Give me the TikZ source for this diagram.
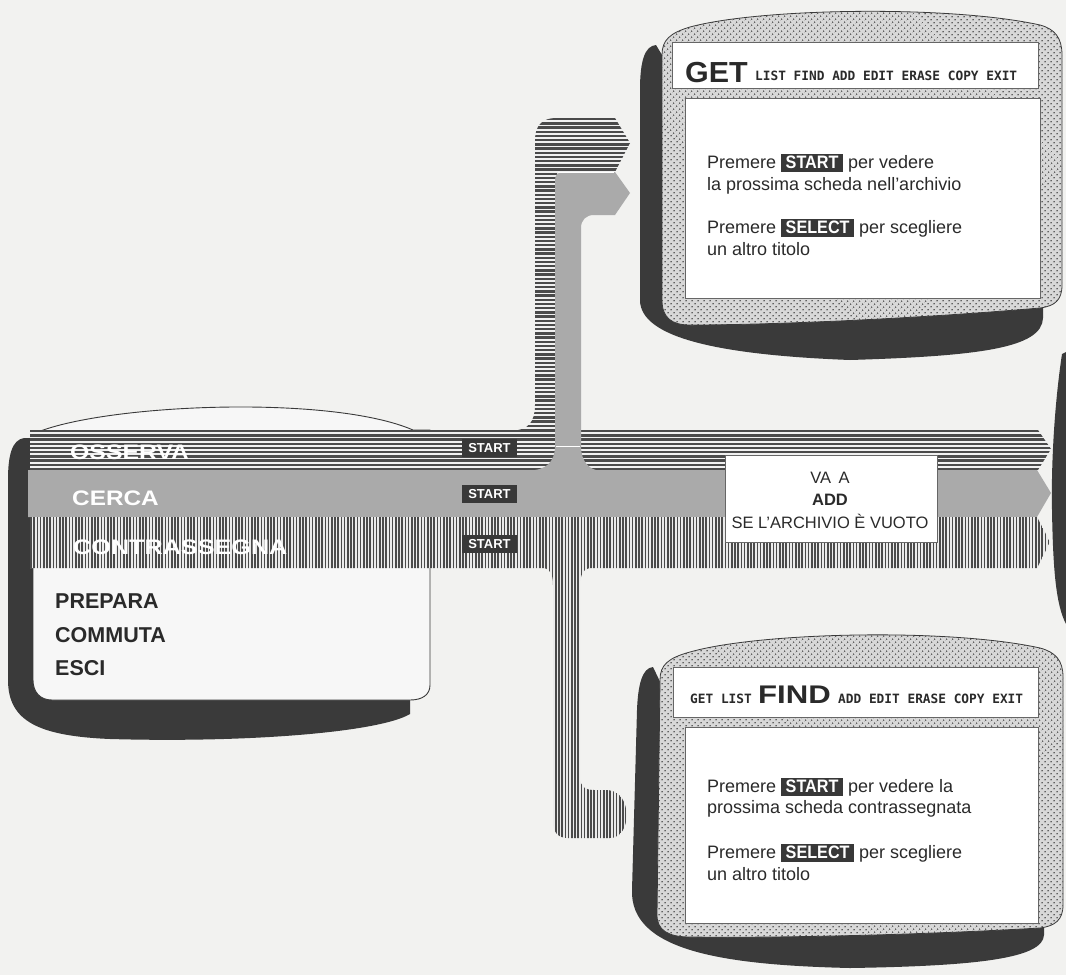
\documentclass[tikz,border=0pt]{standalone}
\usepackage{fontspec}
\usepackage{graphicx}
\setmainfont{Liberation Sans}
\newfontfamily\condf{Liberation Sans}[FakeStretch=0.9]
\newfontfamily\pixf{DejaVu Sans Mono}
\usetikzlibrary{patterns.meta}
\definecolor{paper}{HTML}{F2F2F0}
\definecolor{ink}{HTML}{3A3A3A}
\definecolor{stripe}{HTML}{4A4A4A}
\definecolor{midgray}{HTML}{AAAAAA}
\definecolor{bodyg}{HTML}{D8D8D8}
\definecolor{dotc}{HTML}{555555}
\definecolor{tagc}{HTML}{383838}
\definecolor{textc}{HTML}{2A2A2A}
\newcommand\keytag[1]{{\fboxsep=1.5pt\colorbox{tagc}{\hspace{3pt}\rule[-2.5pt]{0pt}{15pt}\textcolor{white}{\condf\bfseries #1}\hspace{3pt}}}}
\tikzset{
  shadowc/.style={fill=ink},
  bandbg/.style={fill=white!94!black},
  hline/.style={draw=stripe, line width=2.4pt},
  vline/.style={draw=stripe, line width=1.7pt},
  dband/.style={fill=midgray},
  dotbody/.style={preaction={fill=bodyg}, pattern={Dots[distance=4pt,radius=0.9pt,angle=45]}, pattern color=dotc, draw=ink, line width=0.8pt},
  panel/.style={fill=white, draw=gray!80!black, line width=0.9pt, inner sep=0pt},
  bandtag/.style={fill=tagc, text=white, font=\fontsize{13}{13}\selectfont\bfseries, minimum width=55pt, minimum height=18pt, inner sep=0pt},
  screentxt/.style={anchor=base west, inner sep=0pt, text=textc, font=\fontsize{18}{22}\selectfont},
  menutxt/.style={anchor=base west, inner sep=0pt, text=textc, font=\fontsize{21.5}{24}\selectfont\bfseries},
  bandlbl/.style={anchor=base west, inner sep=0pt, text=white, font=\fontsize{21}{24}\selectfont\bfseries},
  bartxt/.style={anchor=base west, inner sep=0pt, text=textc, font=\pixf\bfseries\fontsize{12.8}{14}\selectfont},
  bigtxt/.style={anchor=base west, inner sep=0pt, text=textc, font=\fontsize{29}{30}\selectfont\bfseries},
  boxtxt/.style={anchor=base, inner sep=0pt, text=textc, font=\fontsize{16.5}{20}\selectfont},
  osspath/.style={insert path={(30,430) -- (1038,430) -- (1051,449) -- (1038,470) -- (30,470) -- cycle}},
  ossarm/.style={insert path={(512,430.5) .. controls (528,430.5) and (535,422) .. (535,405) -- (535,140)
     .. controls (535,126) and (542,118) .. (556,118) -- (615,118) -- (630,143) -- (615,172)
     -- (557,172) -- (557,430.5) -- cycle}},
  conpath/.style={insert path={(30,517) -- (1037,517) -- (1050,542) -- (1037,568) -- (30,568) -- cycle}},
  conarm/.style={insert path={(540,567.5) .. controls (550,567.5) and (553,574) .. (553,585) -- (553,822)
     .. controls (553,832) and (558,838) .. (568,838) -- (610,838)
     .. controls (632,838) and (633,792) .. (608,790) -- (594,790)
     .. controls (585,790) and (580,786) .. (580,778) -- (580,585)
     .. controls (580,574) and (584,567.5) .. (594,567.5) -- cycle}},
}
\begin{document}
\begin{tikzpicture}[x=1pt,y=-1pt]
\fill[paper] (0,0) rectangle (1066,975);
\useasboundingbox (0,0) rectangle (1066,975);

% ---------- left monitor ----------
\fill[shadowc] (24,438) .. controls (12,440) and (8,455) .. (8,480) -- (8,680)
  .. controls (8,722) and (40,736) .. (110,739) .. controls (250,743) and (380,732) .. (410,714)
  -- (410,690) -- (40,690) -- (40,438) -- cycle;
\filldraw[fill=white!97!black, draw=ink, line width=0.9pt] (33,434) .. controls (100,404) and (330,394) .. (413,430)
  -- (430,430) -- (430,685) .. controls (430,695) and (422,700) .. (410,700) -- (52,700)
  .. controls (40,700) and (33,692) .. (33,680) -- cycle;

% ---------- OSSERVA band (horizontal stripes) ----------
\fill[bandbg, osspath];
\fill[bandbg, ossarm];
\begin{scope}
  \clip[osspath];
  \foreach \y in {431.2,435.4,...,470} \draw[hline] (20,\y) -- (1060,\y);
\end{scope}
\begin{scope}
  \clip[ossarm];
  \foreach \y in {119.2,123.4,...,432} \draw[hline] (500,\y) -- (640,\y);
\end{scope}

% ---------- CERCA band (grey) ----------
\fill[dband] (28,470) -- (1037,470) -- (1051,493) -- (1037,517) -- (28,517) -- cycle;
\fill[dband] (528,470.5) .. controls (546,470.5) and (555,462) .. (555,446) -- (555,180)
  .. controls (555,175) and (558,172) .. (563,172) -- (615,172) -- (630,193) -- (615,215)
  -- (594,215) .. controls (586,215) and (581,220) .. (581,228) -- (581,446)
  .. controls (581,462) and (590,470.5) .. (600,470.5) -- cycle;
\draw[white, line width=0.8pt] (556,446) -- (580,446);
\draw[white, line width=0.8pt] (558,172) -- (614,172);

% ---------- CONTRASSEGNA band (vertical stripes) ----------
\fill[white!92!black, conpath];
\fill[white!92!black, conarm];
\begin{scope}
  \clip[conpath];
  \foreach \x in {31,34.2,...,1052} \draw[vline] (\x,510) -- (\x,575);
\end{scope}
\begin{scope}
  \clip[conarm];
  \foreach \x in {536.6,539.8,...,640} \draw[vline] (\x,560) -- (\x,845);
\end{scope}

% ---------- band labels and tags ----------
\node[bandlbl] (osserva) at (70,459) {\scalebox{1.18}[1]{OSSERVA}};
\node[bandlbl] (cerca) at (72,505) {\scalebox{1.16}[1]{CERCA}};
\node[bandlbl] (contr) at (73,554) {\scalebox{1.2}[1]{CONTRASSEGNA}};
\node[bandtag] (s1) at (489.5,448) {START};
\node[bandtag] (s2) at (489.5,494) {START};
\node[bandtag] (s3) at (489.5,544) {START};

\node[menutxt] (prepara) at (55,608) {PREPARA};
\node[menutxt] (commuta) at (55,642) {COMMUTA};
\node[menutxt] (esci) at (55,675) {ESCI};

% ---------- VA A box ----------
\node[panel, minimum width=212pt, minimum height=87pt] (va) at (831,498.5) {};
\node[boxtxt] (va1) at (830,483) {VA\hspace{0.45em}A};
\node[boxtxt, font=\fontsize{16.5}{20}\selectfont\bfseries] (va2) at (830,505) {ADD};
\node[boxtxt] (va3) at (830,528) {SE L’ARCHIVIO È VUOTO};

% ---------- GET monitor ----------
\fill[shadowc] (656,45) .. controls (645,46) and (640,60) .. (640,90) -- (640,300)
  .. controls (640,338) and (720,355) .. (850,360) .. controls (980,356) and (1042,348) .. (1043,318)
  -- (1043,300) -- (700,300) -- (665,60) -- cycle;
\filldraw[dotbody] (662,55) .. controls (662,40) and (670,33) .. (690,27)
  .. controls (760,8) and (950,5) .. (1040,25) .. controls (1055,29) and (1062,38) .. (1062,55)
  -- (1062,285) .. controls (1062,300) and (1055,306) .. (1040,308)
  .. controls (900,320) and (760,325) .. (690,325) .. controls (672,325) and (662,318) .. (662,300) -- cycle;
\node[panel, minimum width=366pt, minimum height=46pt] (gethead) at (855,65) {};
\node[panel, minimum width=355pt, minimum height=200pt] (getscreen) at (862.5,198) {};
\node[bigtxt] (gett) at (685,82) {\scalebox{1.05}[1]{GET}};
\node[bartxt] (getbar) at (755,80) {LIST FIND ADD EDIT ERASE COPY EXIT};
\node[screentxt] (g1) at (707,168) {Premere \keytag{START} per vedere};
\node[screentxt] (g2) at (707,190) {la prossima scheda nell’archivio};
\node[screentxt] (g3) at (707,233) {Premere \keytag{SELECT} per scegliere};
\node[screentxt] (g4) at (707,255) {un altro titolo};

% ---------- FIND monitor ----------
\fill[shadowc] (653,667) .. controls (642,668) and (638,685) .. (637,710) -- (632,890)
  .. controls (630,950) and (720,965) .. (850,968) .. controls (980,966) and (1043,958) .. (1044,935)
  -- (1044,920) -- (700,920) -- (664,690) -- cycle;
\filldraw[dotbody] (660,680) .. controls (660,665) and (668,658) .. (690,652)
  .. controls (760,632) and (950,628) .. (1040,648) .. controls (1055,652) and (1063,660) .. (1063,677)
  -- (1063,905) .. controls (1063,920) and (1055,926) .. (1040,928)
  .. controls (900,936) and (760,938) .. (690,937) .. controls (668,937) and (657,930) .. (657,915) -- cycle;
\node[panel, minimum width=365pt, minimum height=50pt] (findhead) at (855.5,692) {};
\node[panel, minimum width=353pt, minimum height=196pt] (findscreen) at (861.5,825) {};
\node[bartxt] (findbar1) at (690,703) {GET LIST};
\node[bigtxt, font=\fontsize{25.5}{28}\selectfont\bfseries] (findt) at (758,703) {\scalebox{1.22}[1]{FIND}};
\node[bartxt] (findbar2) at (838,703) {ADD EDIT ERASE COPY EXIT};
\node[screentxt] (f1) at (707,792) {Premere \keytag{START} per vedere la};
\node[screentxt] (f2) at (707,813) {prossima scheda contrassegnata};
\node[screentxt] (f3) at (707,858) {Premere \keytag{SELECT} per scegliere};
\node[screentxt] (f4) at (707,880) {un altro titolo};

% ---------- right partial monitor ----------
\fill[shadowc] (1066,352) -- (1062,354) .. controls (1055,400) and (1051,460) .. (1052,510)
  .. controls (1053,570) and (1056,605) .. (1066,624) -- cycle;
\end{tikzpicture}
\end{document}
